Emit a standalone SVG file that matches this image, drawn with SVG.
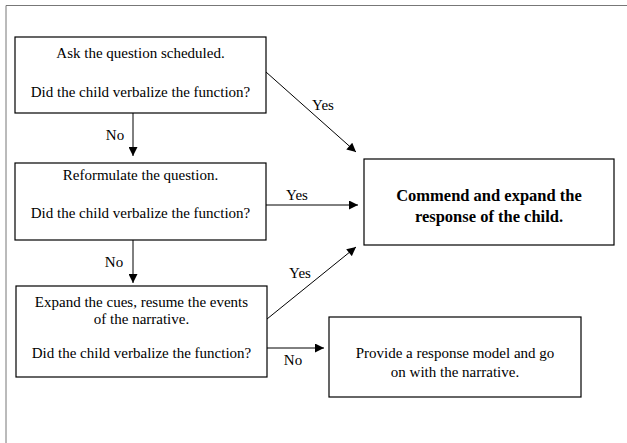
<svg xmlns="http://www.w3.org/2000/svg" width="627" height="443" viewBox="0 0 627 443">
<style>
.box{fill:#fff;stroke:#000;stroke-width:1.2}
text{font-family:'Liberation Serif','Times New Roman',serif;fill:#000;text-anchor:middle}
.t{font-size:15px}
.b{font-weight:bold;font-size:16.5px}
.l{font-size:15px}
.c{stroke:#000;stroke-width:1;fill:none}
</style>
<defs>
<marker id="ah" viewBox="0 0 10 10" refX="10" refY="5" markerWidth="11" markerHeight="9" markerUnits="userSpaceOnUse" orient="auto">
<path d="M0,0L10,5L0,10z" fill="#000"/>
</marker>
</defs>
<rect width="627" height="443" fill="#fff"/>
<path d="M6,443V5.5H627" fill="none" stroke="#777" stroke-width="1"/>
<g id="n1">
<rect class="box" x="15" y="37" width="251" height="76"/>
<text class="t" x="140.5" y="58">Ask the question scheduled.</text>
<text class="t" x="140.5" y="97">Did the child verbalize the function?</text>
</g>
<g id="n2">
<rect class="box" x="15" y="163" width="251" height="77"/>
<text class="t" x="140.5" y="180">Reformulate the question.</text>
<text class="t" x="140.5" y="218">Did the child verbalize the function?</text>
</g>
<g id="n3">
<rect class="box" x="16" y="286" width="251" height="91"/>
<text class="t" x="141.5" y="307">Expand the cues, resume the events</text>
<text class="t" x="141.5" y="324">of the narrative.</text>
<text class="t" x="141.5" y="358">Did the child verbalize the function?</text>
</g>
<g id="n4">
<rect class="box" x="364" y="159" width="250" height="86"/>
<text class="b" x="489" y="201">Commend and expand the</text>
<text class="b" x="489" y="222">response of the child.</text>
</g>
<g id="n5">
<rect class="box" x="329" y="317" width="252" height="80"/>
<text class="t" x="455" y="358">Provide a response model and go</text>
<text class="t" x="455" y="377">on with the narrative.</text>
</g>
<g id="connectors">
<line class="c" x1="133" y1="113" x2="133" y2="156" marker-end="url(#ah)"/>
<line class="c" x1="133" y1="240" x2="133" y2="283" marker-end="url(#ah)"/>
<line class="c" x1="266" y1="72" x2="356" y2="152" marker-end="url(#ah)"/>
<line class="c" x1="266" y1="205" x2="358" y2="205" marker-end="url(#ah)"/>
<line class="c" x1="267" y1="319" x2="356" y2="247" marker-end="url(#ah)"/>
<line class="c" x1="267" y1="348" x2="324" y2="348" marker-end="url(#ah)"/>
<text class="l" x="115" y="140">No</text>
<text class="l" x="114" y="267">No</text>
<text class="l" x="323" y="110">Yes</text>
<text class="l" x="297" y="200">Yes</text>
<text class="l" x="300" y="278">Yes</text>
<text class="l" x="293" y="365">No</text>
</g>
</svg>
